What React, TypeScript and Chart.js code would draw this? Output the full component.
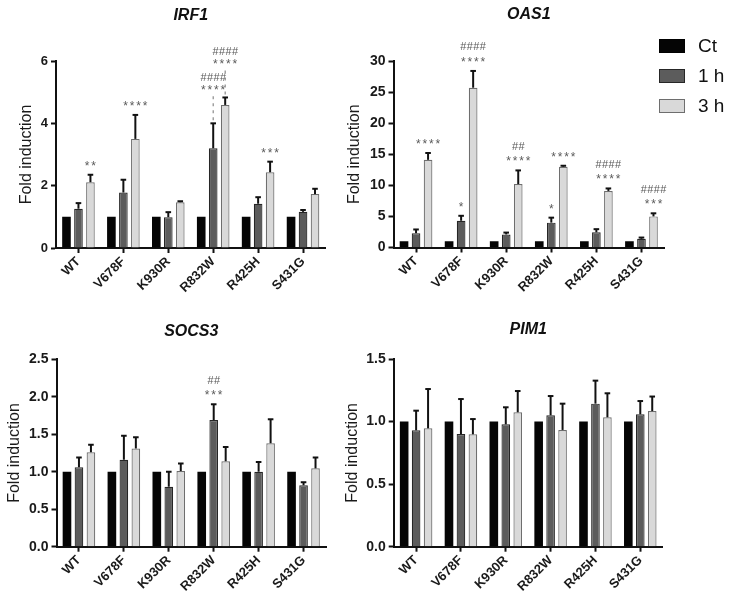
import React, { useEffect, useRef } from "react";
import { Chart, registerables } from "chart.js";

Chart.register(...registerables);

// ---------- data ----------
const CATEGORIES = ["WT", "V678F", "K930R", "R832W", "R425H", "S431G"];
const SERIES_NAMES = ["Ct", "1 h", "3 h"];
const CT_VALUES = [1, 1, 1, 1, 1, 1];

const IRF1_1H = [1.26, 1.78, 0.99, 3.2, 1.42, 1.16];
const IRF1_1H_ERR = [0.18, 0.41, 0.16, 0.8, 0.21, 0.06];
const IRF1_3H = [2.11, 3.5, 1.47, 4.59, 2.43, 1.73];
const IRF1_3H_ERR = [0.24, 0.77, 0.03, 0.24, 0.34, 0.17];
const IRF1_STARS_1H = ["", "", "", "****", "", ""];
const IRF1_HASH_1H = ["", "", "", "####", "", ""];
const IRF1_STARS_3H = ["**", "****", "", "****", "***", ""];
const IRF1_HASH_3H = ["", "", "", "####", "", ""];

const OAS1_1H = [2.3, 4.3, 2.1, 4.0, 2.45, 1.4];
const OAS1_1H_ERR = [0.6, 0.8, 0.3, 0.8, 0.5, 0.2];
const OAS1_3H = [14.1, 25.7, 10.2, 13.0, 9.1, 5.0];
const OAS1_3H_ERR = [1.1, 2.7, 2.2, 0.15, 0.4, 0.5];
const OAS1_STARS_1H = ["", "*", "", "*", "", ""];
const OAS1_HASH_1H = ["", "", "", "", "", ""];
const OAS1_STARS_3H = ["****", "****", "****", "****", "****", "***"];
const OAS1_HASH_3H = ["", "####", "##", "", "####", "####"];

const SOCS3_1H = [1.06, 1.16, 0.8, 1.69, 1.0, 0.82];
const SOCS3_1H_ERR = [0.13, 0.32, 0.2, 0.21, 0.13, 0.04];
const SOCS3_3H = [1.26, 1.31, 1.01, 1.14, 1.38, 1.045];
const SOCS3_3H_ERR = [0.1, 0.15, 0.1, 0.19, 0.32, 0.145];
const SOCS3_STARS_1H = ["", "", "", "***", "", ""];
const SOCS3_HASH_1H = ["", "", "", "##", "", ""];
const SOCS3_STARS_3H = ["", "", "", "", "", ""];
const SOCS3_HASH_3H = ["", "", "", "", "", ""];

const PIM1_1H = [0.93, 0.9, 0.978, 1.05, 1.143, 1.058];
const PIM1_1H_ERR = [0.157, 0.28, 0.136, 0.154, 0.184, 0.106];
const PIM1_3H = [0.946, 0.898, 1.074, 0.933, 1.034, 1.084];
const PIM1_3H_ERR = [0.314, 0.122, 0.17, 0.21, 0.192, 0.116];
const EMPTY_MARKS = ["", "", "", "", "", ""];

// ---------- styling ----------
const FONT = '"Liberation Sans", Arial, Helvetica, sans-serif';
const FILLS = ["#050505", "#5c5c5c", "#d9d9d9"];
const BORDERS = ["#000000", "#262626", "#6e6e6e"];
const W = 735;
const H = 601;
const Y_BOX = 40;
const X_BOX = 60;

type Panel = {
  title: string;
  v1: number[];
  e1: number[];
  v3: number[];
  e3: number[];
  s1: string[];
  h1: string[];
  s3: string[];
  h3: string[];
  yMax: number;
  yStep: number;
  decimals: number;
  tickSize: number;
  area: { left: number; right: number; top: number; bottom: number };
  titleY: number;
  yTitleOffset: number;
  leaders: number[][]; // [series, index]
};

const PANELS: Panel[] = [
  {
    title: "IRF1",
    v1: IRF1_1H, e1: IRF1_1H_ERR, v3: IRF1_3H, e3: IRF1_3H_ERR,
    s1: IRF1_STARS_1H, h1: IRF1_HASH_1H, s3: IRF1_STARS_3H, h3: IRF1_HASH_3H,
    yMax: 6, yStep: 2, decimals: 0, tickSize: 13,
    area: { left: 56, right: 325.5, top: 61, bottom: 248 },
    titleY: 16, yTitleOffset: 29,
    leaders: [[1, 3], [2, 3]],
  },
  {
    title: "OAS1",
    v1: OAS1_1H, e1: OAS1_1H_ERR, v3: OAS1_3H, e3: OAS1_3H_ERR,
    s1: OAS1_STARS_1H, h1: OAS1_HASH_1H, s3: OAS1_STARS_3H, h3: OAS1_HASH_3H,
    yMax: 30, yStep: 5, decimals: 0, tickSize: 14,
    area: { left: 393.5, right: 664, top: 61, bottom: 247.5 },
    titleY: 15, yTitleOffset: 38.5,
    leaders: [],
  },
  {
    title: "SOCS3",
    v1: SOCS3_1H, e1: SOCS3_1H_ERR, v3: SOCS3_3H, e3: SOCS3_3H_ERR,
    s1: SOCS3_STARS_1H, h1: SOCS3_HASH_1H, s3: SOCS3_STARS_3H, h3: SOCS3_HASH_3H,
    yMax: 2.5, yStep: 0.5, decimals: 1, tickSize: 14,
    area: { left: 56.5, right: 326, top: 359.3, bottom: 546.7 },
    titleY: 332, yTitleOffset: 41.5,
    leaders: [],
  },
  {
    title: "PIM1",
    v1: PIM1_1H, e1: PIM1_1H_ERR, v3: PIM1_3H, e3: PIM1_3H_ERR,
    s1: EMPTY_MARKS, h1: EMPTY_MARKS, s3: EMPTY_MARKS, h3: EMPTY_MARKS,
    yMax: 1.5, yStep: 0.5, decimals: 1, tickSize: 14,
    area: { left: 393.7, right: 662.7, top: 359, bottom: 546.7 },
    titleY: 330, yTitleOffset: 41,
    leaders: [],
  },
];

function drawMarks(ctx: CanvasRenderingContext2D, text: string, cx: number, cy: number, kind: "star" | "hash") {
  if (!text) return;
  const size = kind === "star" ? 12 : 11;
  const pitch = 6.5;
  ctx.font = `${size}px ${FONT}`;
  ctx.fillStyle = "#5a5a5a";
  ctx.textAlign = "center";
  ctx.textBaseline = "alphabetic";
  const n = text.length;
  const start = cx - ((n - 1) * pitch) / 2;
  const base = kind === "star" ? cy + 0.57 * size : cy + 0.36 * size;
  for (let k = 0; k < n; k++) {
    ctx.fillText(text[k], start + k * pitch, base);
  }
}

function makeDecor(p: Panel) {
  return {
    id: "decor" + p.title,
    afterDatasetsDraw(chart: any) {
      const ctx: CanvasRenderingContext2D = chart.ctx;
      const ys = chart.scales.y;
      const series = [
        null,
        { v: p.v1, e: p.e1, s: p.s1, h: p.h1 },
        { v: p.v3, e: p.e3, s: p.s3, h: p.h3 },
      ];
      ctx.save();
      for (let d = 1; d <= 2; d++) {
        const sd = series[d]!;
        const meta = chart.getDatasetMeta(d);
        meta.data.forEach((bar: any, i: number) => {
          const x = bar.x;
          const top = bar.y;
          const errY = ys.getPixelForValue(sd.v[i] + sd.e[i]);
          ctx.strokeStyle = "#111";
          ctx.lineWidth = 2;
          ctx.setLineDash([]);
          ctx.beginPath();
          ctx.moveTo(x, top);
          ctx.lineTo(x, errY);
          ctx.stroke();
          ctx.beginPath();
          ctx.moveTo(x - 2.8, errY);
          ctx.lineTo(x + 2.8, errY);
          ctx.stroke();

          const isLeader = p.leaders.some((l) => l[0] === d && l[1] === i);
          const starY = isLeader ? errY - 36 : errY - 12;
          const hashGap = isLeader ? 10 : 12.5;
          if (isLeader) {
            ctx.strokeStyle = "#8a8a8a";
            ctx.lineWidth = 1.2;
            ctx.setLineDash([3, 4]);
            ctx.beginPath();
            ctx.moveTo(x, errY - 3);
            ctx.lineTo(x, starY + 6);
            ctx.stroke();
            ctx.setLineDash([]);
          }
          drawMarks(ctx, sd.s[i], x, starY, "star");
          drawMarks(ctx, sd.h[i], x, starY - hashGap, "hash");
        });
      }
      ctx.restore();
    },
    afterDraw(chart: any) {
      const ctx: CanvasRenderingContext2D = chart.ctx;
      const a = chart.chartArea;
      ctx.save();
      ctx.fillStyle = "#111";
      ctx.font = `italic bold 16px ${FONT}`;
      ctx.textAlign = "center";
      ctx.textBaseline = "middle";
      ctx.fillText(p.title, (a.left + a.right) / 2, p.titleY);
      ctx.translate(a.left - p.yTitleOffset, (a.top + a.bottom) / 2);
      ctx.rotate(-Math.PI / 2);
      ctx.font = `16px ${FONT}`;
      ctx.fillStyle = "#1a1a1a";
      ctx.fillText("Fold induction", 0, 0);
      ctx.restore();
    },
  };
}

function GenePanel({ p }: { p: Panel }) {
  const ref = useRef<HTMLCanvasElement | null>(null);
  useEffect(() => {
    if (!ref.current) return;
    const values = [CT_VALUES, p.v1, p.v3];
    const axisGrid = {
      display: true,
      drawOnChartArea: false,
      drawTicks: true,
      tickLength: 5,
      tickWidth: 2,
      tickColor: "#111",
    };
    const chart = new Chart(ref.current, {
      type: "bar",
      data: {
        labels: CATEGORIES,
        datasets: SERIES_NAMES.map((name, k) => ({
          label: name,
          data: values[k],
          backgroundColor: FILLS[k],
          borderColor: BORDERS[k],
          borderWidth: k === 0 ? 0 : 1.2,
          categoryPercentage: 0.8,
          barPercentage: 0.72,
        })),
      },
      options: {
        responsive: false,
        animation: false,
        events: [],
        layout: {
          padding: {
            left: p.area.left - Y_BOX,
            right: W - p.area.right,
            top: p.area.top,
            bottom: H - p.area.bottom - X_BOX,
          },
        },
        plugins: {
          legend: { display: false },
          title: { display: false },
          tooltip: { enabled: false },
        },
        scales: {
          x: {
            offset: true,
            grid: { ...axisGrid, offset: false },
            border: { display: true, color: "#111", width: 2 },
            ticks: {
              autoSkip: false,
              maxRotation: 45,
              minRotation: 45,
              padding: 1,
              color: "#1a1a1a",
              font: { family: FONT, size: 13, weight: "bold" },
            },
            afterFit: (s: any) => {
              s.height = X_BOX;
              s.paddingLeft = 0;
              s.paddingRight = 0;
            },
          },
          y: {
            min: 0,
            max: p.yMax,
            grid: axisGrid,
            border: { display: true, color: "#111", width: 2 },
            ticks: {
              stepSize: p.yStep,
              padding: 3,
              color: "#1a1a1a",
              font: { family: FONT, size: p.tickSize, weight: "bold" },
              callback: (v: any) => Number(v).toFixed(p.decimals),
            },
            afterFit: (s: any) => {
              s.width = Y_BOX;
              s.paddingTop = 0;
              s.paddingBottom = 0;
            },
          },
        },
      } as any,
      plugins: [makeDecor(p)],
    });
    return () => chart.destroy();
  }, [p]);
  return (
    <canvas
      ref={ref}
      width={W}
      height={H}
      style={{ position: "absolute", left: 0, top: 0, width: W, height: H }}
    />
  );
}

const LEGEND_TOPS = [39, 69, 99];

export default function App() {
  return (
    <div
      style={{
        position: "fixed",
        left: 0,
        top: 0,
        width: W,
        height: H,
        background: "#ffffff",
        overflow: "hidden",
      }}
    >
      {PANELS.map((p) => (
        <GenePanel key={p.title} p={p} />
      ))}
      {SERIES_NAMES.map((name, k) => (
        <div key={name}>
          <div
            style={{
              position: "absolute",
              left: 659,
              top: LEGEND_TOPS[k],
              width: 26,
              height: 14,
              boxSizing: "border-box",
              background: FILLS[k],
              border: `1.5px solid ${BORDERS[k]}`,
            }}
          />
          <div
            style={{
              position: "absolute",
              left: 698,
              top: LEGEND_TOPS[k] - 5,
              height: 24,
              lineHeight: "24px",
              fontFamily: FONT,
              fontSize: 19,
              color: "#111",
              whiteSpace: "nowrap",
            }}
          >
            {name}
          </div>
        </div>
      ))}
    </div>
  );
}
